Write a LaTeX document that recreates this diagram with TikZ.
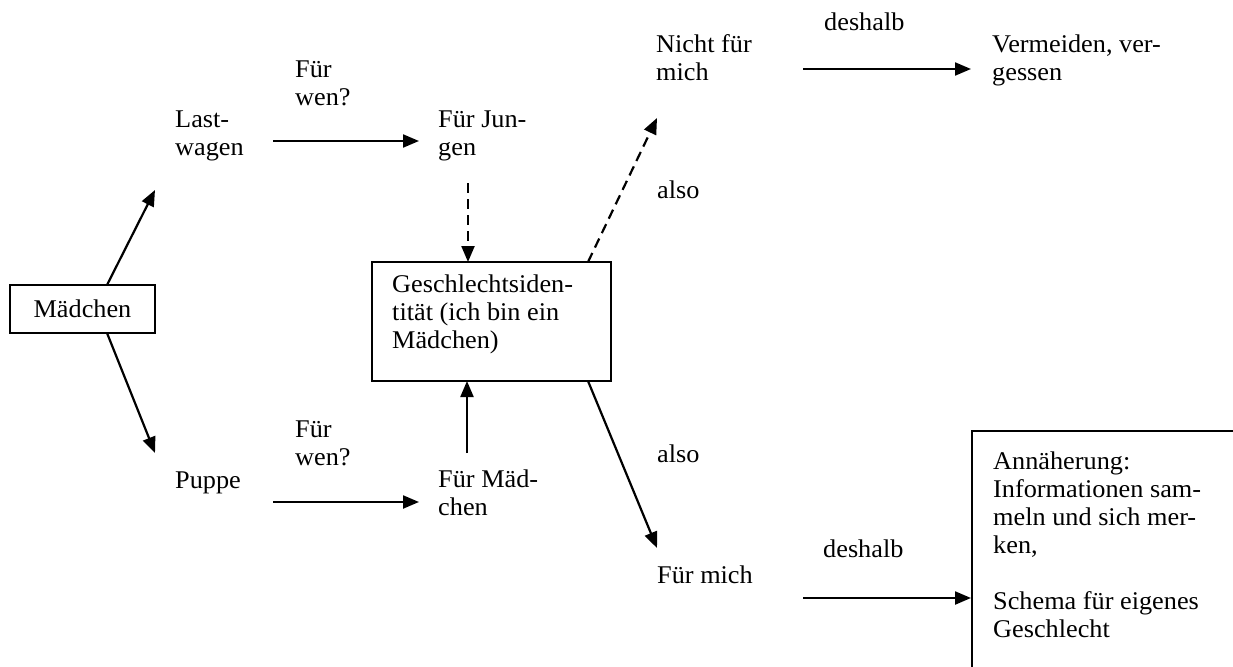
\documentclass[tikz,border=0pt]{standalone}
\usepackage{fontspec}
\setmainfont{Liberation Serif}[FakeStretch=1.03]
\usetikzlibrary{arrows.meta}
\newcommand{\lbl}[1]{\begin{tabular}[t]{@{}l@{}}#1\end{tabular}}
\begin{document}
\begin{tikzpicture}[x=1pt,y=-1pt,
  every node/.style={font=\fontsize{25.5}{28}\selectfont, inner sep=0pt},
  txt/.style={anchor=base west},
  arr/.style={line width=2.2pt, -{Triangle[length=16pt,width=13pt]}},
  darr/.style={arr, dash pattern=on 10pt off 6pt},
  boxed/.style={draw, line width=1.6pt}
]
\useasboundingbox (0,0) rectangle (1233,666);
\clip (0,0) rectangle (1233,666);

% nodes
\node[boxed, minimum width=145pt, minimum height=48pt] (mad) at (82.5,309) {Mädchen};
\node[txt] (last) at (175,128) {\lbl{Last-\\wagen}};
\node[txt] (fw1) at (295,78) {\lbl{Für\\wen?}};
\node[txt] (fj) at (438,128) {\lbl{Für Jun-\\gen}};
\node[boxed, minimum width=239pt, minimum height=119pt] (gid) at (491.5,321.5) {};
\node[txt] (gidt) at (392,292) {\lbl{Geschlechtsiden-\\tität (ich bin ein\\Mädchen)}};
\node[txt] (nfm) at (656,53) {\lbl{Nicht für\\mich}};
\node[txt] (also1) at (657,198) {also};
\node[txt] (desh1) at (824,31) {deshalb};
\node[txt] (verm) at (992,53) {\lbl{Vermeiden, ver-\\gessen}};
\node[txt] (pup) at (175,488) {Puppe};
\node[txt] (fw2) at (295,437) {\lbl{Für\\wen?}};
\node[txt] (fmd) at (438,487) {\lbl{Für Mäd-\\chen}};
\node[txt] (also2) at (657,462) {also};
\node[txt] (fm) at (657,583) {Für mich};
\node[txt] (desh2) at (823,557) {deshalb};
\node[boxed, anchor=north west, minimum width=400pt, minimum height=300pt] (ann) at (971,430) {};
\node[txt] (annt) at (993,469) {\lbl{Annäherung:\\Informationen sam-\\meln und sich mer-\\ken,\\ \\Schema für eigenes\\Geschlecht}};

% connector end points
\coordinate (a1s) at (107,285);
\coordinate (a1e) at (155,190);
\coordinate (a2s) at (107,333);
\coordinate (a2e) at (155,453);
\coordinate (a3s) at (273,141);
\coordinate (a3e) at (419,141);
\coordinate (a4s) at (273,502);
\coordinate (a4e) at (419,502);
\coordinate (a5s) at (468,183);
\coordinate (a5e) at (468,262);
\coordinate (a6s) at (467,453);
\coordinate (a6e) at (467,381);
\coordinate (a7s) at (588,262);
\coordinate (a7e) at (657,118);
\coordinate (a8s) at (588,381);
\coordinate (a8e) at (657,548);
\coordinate (a9s) at (803,69);
\coordinate (a9e) at (971,69);
\coordinate (a10s) at (803,598);
\coordinate (a10e) at (971,598);

% connectors
\draw[arr] (a1s) -- (a1e);
\draw[arr] (a2s) -- (a2e);
\draw[arr] (a3s) -- (a3e);
\draw[arr] (a4s) -- (a4e);
\draw[darr] (a5s) -- (a5e);
\draw[arr] (a6s) -- (a6e);
\draw[darr] (a7s) -- (a7e);
\draw[arr] (a8s) -- (a8e);
\draw[arr] (a9s) -- (a9e);
\draw[arr] (a10s) -- (a10e);
\end{tikzpicture}
\end{document}
